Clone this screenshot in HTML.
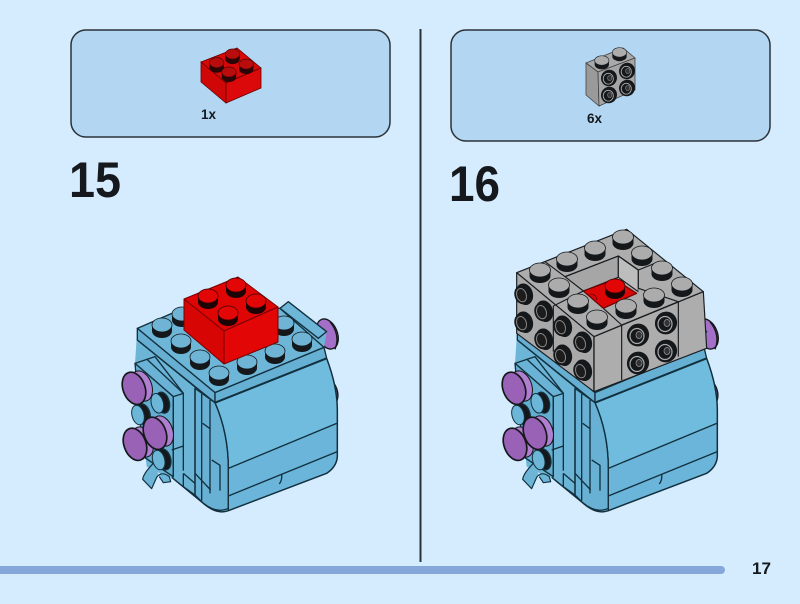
<!DOCTYPE html>
<html><head><meta charset="utf-8"><style>
html,body{margin:0;padding:0;background:#d5ecfe}
svg{display:block}
text{font-family:"Liberation Sans",sans-serif;font-weight:700;fill:#15181c}
.m{filter:blur(.35px)}
</style></head><body>
<svg width="800" height="604" viewBox="0 0 800 604" xmlns="http://www.w3.org/2000/svg">
<defs>
<g id="bs"><path d="M-10,-3V3A10,7 0 0 0 10,3V-3Z" fill="#14181b"/><ellipse cx="0" cy="-3" rx="10" ry="7" fill="#6fb4d4" stroke="#14181b" stroke-width=".8"/></g>
<g id="gs"><path d="M-10.500,-3V3A10.500,7 0 0 0 10.500,3V-3Z" fill="#14181b"/><ellipse cx="0" cy="-3" rx="10.500" ry="7" fill="#acacac" stroke="#14181b" stroke-width=".8"/></g>
<g id="rs"><path d="M-10,-3V3A10,7 0 0 0 10,3V-3Z" fill="#1c0304"/><ellipse cx="0" cy="-3" rx="10" ry="7" fill="#e20606" stroke="#400" stroke-width=".8"/></g>
<g id="rd"><path d="M-10,-3V4A10,7 0 0 0 10,4V-3Z" fill="#2c0506"/><ellipse cx="0" cy="-3" rx="10" ry="7" fill="#b90d0d" stroke="#400" stroke-width=".8"/></g>
<g id="ps"><ellipse cx="23" cy="-7" rx="30" ry="47" transform="rotate(-20 23 -7)" fill="#b07fd0" stroke="#14181b" stroke-width="3"/><ellipse cx="0" cy="0" rx="33" ry="50" transform="rotate(-20)" fill="#9a62b6" stroke="#14181b" stroke-width="5"/></g>
<g id="bp"><ellipse cx="16" cy="-2" rx="20" ry="32" transform="rotate(-15 16 -2)" fill="#14181b"/><ellipse cx="0" cy="0" rx="18" ry="30" transform="rotate(-15)" fill="#6cb6d8" stroke="#14303f" stroke-width="3"/></g>
<g id="hs"><ellipse cx="2.500" cy="0" rx="8.500" ry="11" transform="rotate(-18)" fill="#14181b"/><ellipse cx="-1" cy="0" rx="6.500" ry="9" transform="rotate(-18)" fill="#14181b"/><ellipse cx="-.5" cy="0" rx="4.800" ry="6.800" transform="rotate(-18)" fill="#1c1c1c" stroke="#8a8a8a" stroke-width="1"/></g>
<g id="ht"><ellipse cx="0" cy="0" rx="11" ry="11.500" transform="rotate(24)" fill="#14181b"/><ellipse cx="-1" cy="1" rx="7" ry="7.500" fill="none" stroke="#aaa" stroke-width="1.200"/><ellipse cx="1" cy="0" rx="3" ry="3.500" fill="#333" stroke="#999" stroke-width=".7"/></g>
<g id="body" transform="translate(100,260) scale(.33333)" stroke="#12303e" stroke-width="4" stroke-linejoin="round" fill="none">
<ellipse cx="682" cy="222" rx="30" ry="47" transform="rotate(-22 682 222)" fill="#a46fc7" stroke="#14181b"/>
<path d="M690,185Q722,225 705,268" stroke="#14181b" fill="none"/>
<path d="M702,370Q722,400 708,430Z" fill="#7d5b97" stroke="#14181b"/>
<path fill="#6cb5d7" stroke="none" d="M112,205L250,145L540,145L565,125L680,215L672,262L680,295Q712,380 712,450L712,590Q710,620 680,640L385,752Q350,765 310,730L215,652L180,640L140,620L105,310Z"/>
<path fill="#6fbcdf" stroke="none" d="M345,428L680,295Q712,380 712,450V490L385,625Q385,520 345,428Z"/>
<path fill="#6ab5d9" stroke="none" d="M385,625L712,490V590Q710,620 680,640L385,752Z"/>
<path fill="#6ab3d6" d="M105,310L165,290L250,400L220,410Z"/>
<path fill="#64aed1" d="M105,310L220,410V650L130,590Z"/>
<path fill="#6db6d8" d="M112,205L250,145L540,145L672,262L345,398Z"/>
<path fill="#66afd2" d="M112,205L345,398V428L112,240Z"/>
<path fill="#66b0d3" d="M345,398L672,262L680,295L345,428Z"/>
<path fill="#6db6d8" d="M540,145L565,125L680,215L655,235Z"/>
<path fill="#68b1d4" d="M345,428Q385,520 385,625V745Q350,762 310,730L285,705V385Z"/>
<path stroke-width="6" d="M345,428L680,295"/>
<path d="M112,240L290,385M140,297L250,400M220,410V650M250,400V632M215,570L250,558M285,385V705M305,402V722M330,420V700M308,490L330,506M335,600L360,616V692M285,640L332,690M345,428Q385,520 385,625V750M385,625L710,490M385,708L712,575M545,642Q547,660 538,672"/>
<path stroke-width="4.500" d="M680,295Q712,380 712,450V590Q710,620 680,640L385,752Q350,765 310,730L215,652"/>
<path d="M250,640L285,670M250,680L285,705M250,680V640"/>
<path fill="#6cb5d7" stroke-width="3.500" d="M162,608Q130,640 128,658L155,686L170,652Q185,632 208,650L212,665L190,668L178,650"/>
<use href="#bp" x="172" y="430"/><use href="#bp" x="114" y="465"/><use href="#bp" x="176" y="600"/>
<use href="#ps" x="102" y="385"/><use href="#ps" x="105" y="553"/><use href="#ps" x="165" y="520"/>
</g>
</defs>

<rect width="800" height="604" fill="#d5ecfe"/>
<rect x="71" y="30" width="319" height="107" rx="15" fill="#b3d7f3" stroke="#2b3238" stroke-width="1.500"/>
<rect x="451" y="30" width="319" height="111" rx="15" fill="#b3d7f3" stroke="#2b3238" stroke-width="1.500"/>
<rect x="419.500" y="29" width="2" height="533" fill="#2b3238"/>
<rect x="-10" y="566" width="735" height="8" rx="4" fill="#86a7da"/>

<g class="m">
<path d="M201,62L237,48 261,68 226,83Z" fill="#d60808" stroke="#600" stroke-width=".8"/>
<path d="M201,62L226,83V103L201,82Z" fill="#cf0707" stroke="#600" stroke-width=".8"/>
<path d="M226,83L261,68V88L226,103Z" fill="#db0909" stroke="#600" stroke-width=".8"/>
<g transform="scale(.72)"><use href="#rd" x="301" y="90"/><use href="#rd" x="323" y="78"/><use href="#rd" x="342" y="92"/><use href="#rd" x="318" y="103"/></g>

<path d="M586,63L623,48 635,58 598,72Z" fill="#a9a9a9" stroke="#444" stroke-width=".8"/>
<path d="M586,63L598,72 599,106 586,95Z" fill="#9a9a9a" stroke="#444" stroke-width=".8"/>
<path d="M598,72L635,58V90L599,106Z" fill="#a5a5a5" stroke="#444" stroke-width=".8"/>
<g transform="scale(.68)"><use href="#gs" x="885" y="92"/><use href="#gs" x="911" y="80"/></g>
<g transform="translate(609,78) scale(.72)"><use href="#ht"/></g><g transform="translate(627,71) scale(.72)"><use href="#ht"/></g>
<g transform="translate(609,95) scale(.72)"><use href="#ht"/></g><g transform="translate(627,88) scale(.72)"><use href="#ht"/></g>

<!-- step 15 -->
<use href="#body"/>
<use href="#bs" x="162" y="328"/><use href="#bs" x="181" y="344"/><use href="#bs" x="200" y="360"/><use href="#bs" x="219" y="376"/>
<use href="#bs" x="247" y="365"/><use href="#bs" x="275" y="354"/><use href="#bs" x="302" y="342"/><use href="#bs" x="284" y="326"/><use href="#bs" x="182" y="317"/>
<g stroke="#7a0000" stroke-width="1" stroke-linejoin="round">
<path d="M184,299L238,277 278,307 224,331Z" fill="#df0505"/>
<path d="M184,299L224,331V364L184,330Z" fill="#d80505"/>
<path d="M224,331L278,307V342L224,364Z" fill="#e20606"/>
</g>
<use href="#rs" x="208" y="299"/><use href="#rs" x="236" y="288"/><use href="#rs" x="256" y="304"/><use href="#rs" x="228" y="316"/>

<!-- step 16 -->
<use href="#body" x="380"/>
<g transform="translate(490,220) scale(.33333)" stroke="#1a1d20" stroke-width="3.500" stroke-linejoin="round">
<path d="M80,158L410,28L640,215L312,350Z" fill="#adadad"/>
<path d="M80,158L312,350V515L80,340Z" fill="#a9a9a9"/>
<path d="M312,350L640,215L650,385L312,515Z" fill="#adadad"/>
<path d="M225,170L385,108V172L280,213Z" fill="#a6a6a6"/>
<path d="M385,108L445,150V215L385,172Z" fill="#bdbdbd"/>
<path d="M445,150L520,215L460,240L445,215Z" fill="#adadad" stroke="none"/>
<path d="M280,213L375,178L440,220L340,265Z" fill="#dc0606" stroke="#6b0000"/>
<path d="M300,222Q322,225 320,240" fill="none" stroke="#6b0000" stroke-width="2.500"/>
<path fill="none" d="M165,125L225,170M225,170L385,108L445,150M445,150L510,124M190,258L280,213M340,265L395,315M445,205L565,245M445,150V205M312,350V515M395,315V480M565,245V410M395,315L565,245M190,258V395"/>
</g>
<use href="#gs" x="540" y="273"/><use href="#gs" x="567" y="262"/><use href="#gs" x="595" y="251"/><use href="#gs" x="623" y="240"/>
<use href="#gs" x="642" y="256"/><use href="#gs" x="662" y="271"/><use href="#gs" x="682" y="287"/><use href="#gs" x="654" y="298"/>
<use href="#gs" x="626" y="309"/><use href="#gs" x="597" y="320"/><use href="#gs" x="578" y="304"/><use href="#gs" x="559" y="288"/>
<use href="#rs" x="615" y="289"/>
<use href="#hs" x="522" y="295"/><use href="#hs" x="522" y="323"/><use href="#hs" x="542" y="312"/><use href="#hs" x="542" y="340"/>
<use href="#hs" x="561" y="327"/><use href="#hs" x="561" y="356"/><use href="#hs" x="581" y="343"/><use href="#hs" x="581" y="371"/>
<use href="#ht" x="638" y="335"/><use href="#ht" x="666" y="323"/><use href="#ht" x="638" y="363"/><use href="#ht" x="666" y="351"/>
</g>

<text x="201" y="119" font-size="13.500">1x</text>
<text x="587" y="123" font-size="13.500">6x</text>
<text x="69" y="197" font-size="50" textLength="52" lengthAdjust="spacingAndGlyphs">15</text>
<text x="449" y="201" font-size="50" textLength="51" lengthAdjust="spacingAndGlyphs">16</text>
<text x="752" y="574" font-size="17" textLength="19" lengthAdjust="spacingAndGlyphs">17</text>
</svg>
</body></html>
